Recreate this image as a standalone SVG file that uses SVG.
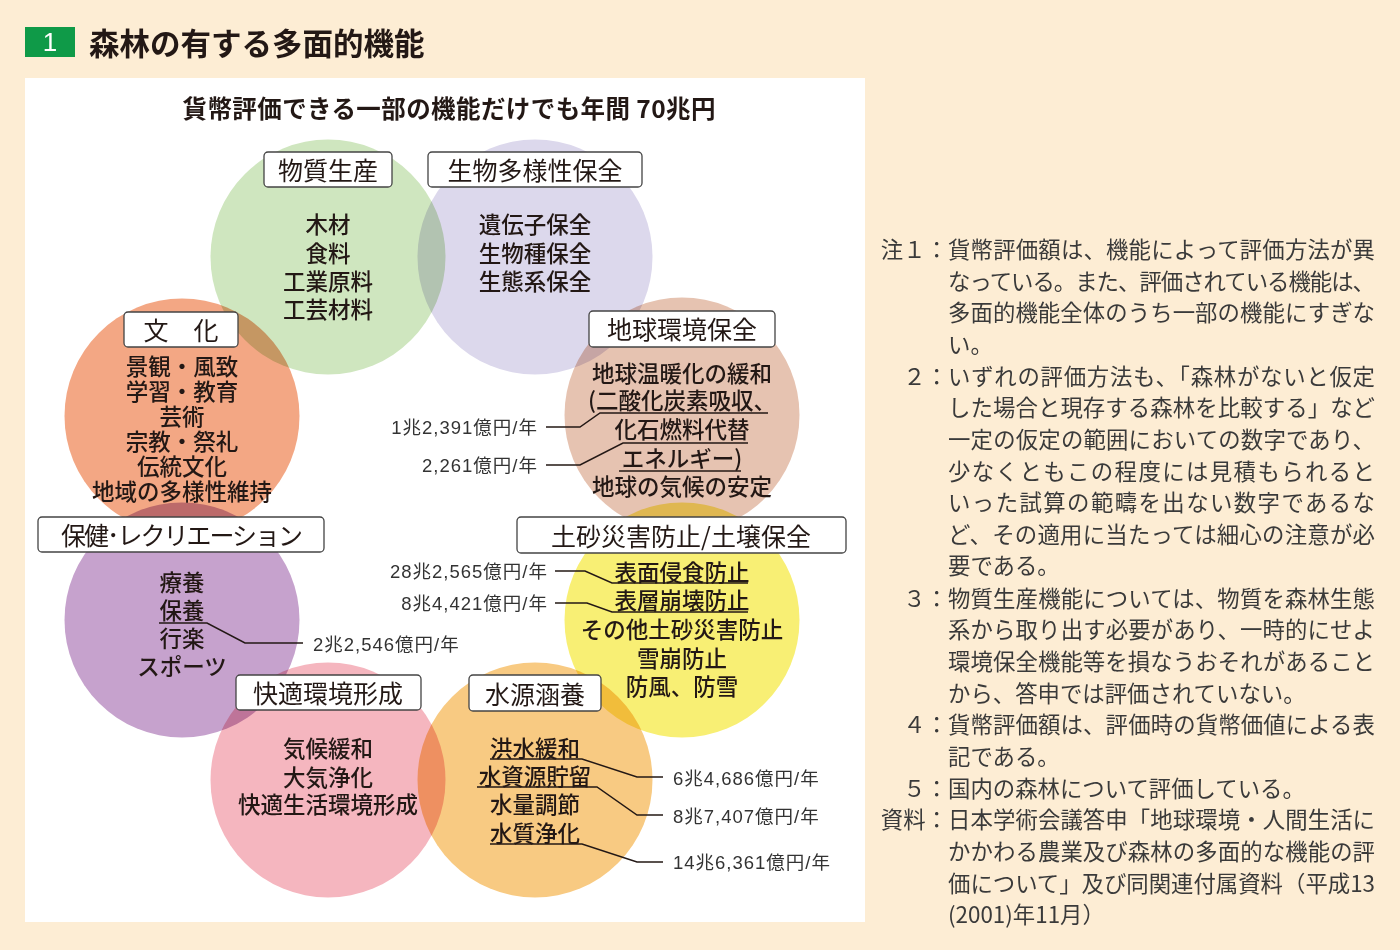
<svg xmlns="http://www.w3.org/2000/svg" width="1400" height="950" viewBox="0 0 1400 950">
<style>
text{font-family:"Noto Sans CJK JP","Liberation Sans",sans-serif;fill:#231815}
.c{mix-blend-mode:multiply}
.box{fill:#fff;stroke:#444;stroke-width:1.3}
.lbl{font-size:25px;text-anchor:middle;dominant-baseline:central}
.in{font-size:22.5px;font-weight:500;text-anchor:middle;dominant-baseline:central}
.num{font-family:"Liberation Sans","Noto Sans CJK JP",sans-serif;font-size:18.5px;letter-spacing:1px;dominant-baseline:central;fill:#333}
.ln{fill:none;stroke:#231815;stroke-width:1.5}
.note{font-size:22.4px;fill:#3a3a3a;dominant-baseline:central}
.nh{text-anchor:end}
</style>
<rect width="1400" height="950" fill="#FDEDD4"/>
<rect x="25" y="27" width="50" height="30" fill="#0F9A48"/>
<text x="50" y="42" font-size="26" text-anchor="middle" dominant-baseline="central" style="fill:#fff;font-family:'Liberation Sans',sans-serif">1</text>
<text x="89" y="42" font-size="30.5" font-weight="700" dominant-baseline="central">森林の有する多面的機能</text>
<rect x="25" y="78" width="840" height="844" fill="#fff"/>
<text x="449" y="107" font-size="24.5" font-weight="700" text-anchor="middle" dominant-baseline="central" textLength="533">貨幣評価できる一部の機能だけでも年間 70兆円</text>

<g id="circles">
<circle class="c" cx="328" cy="257" r="117.5" fill="#CFE6BF"/>
<circle class="c" cx="535" cy="257" r="117.5" fill="#DCD8EC"/>
<circle class="c" cx="182" cy="416" r="117.5" fill="#F3A784"/>
<circle class="c" cx="682" cy="415" r="117.5" fill="#E6C3B1"/>
<circle class="c" cx="182" cy="620" r="117.5" fill="#C6A2CD"/>
<circle class="c" cx="682" cy="620" r="117.5" fill="#F8EF74"/>
<circle class="c" cx="328" cy="780" r="117.5" fill="#F5B6BF"/>
<circle class="c" cx="535" cy="780" r="117.5" fill="#F8CA82"/>
</g>

<g id="connectors">
<polyline class="ln" points="546,427 580,427 600,413 768,413"/>
<polyline class="ln" points="546,465 580,465 623,443 748,443"/>
<line class="ln" x1="619" y1="471" x2="741" y2="471"/>
<polyline class="ln" points="555,571 585,571 612,583 748,583"/>
<polyline class="ln" points="555,603 587,603 612,612 748,612"/>
<polyline class="ln" points="159,623 207,623 245,643 303,643"/>
<polyline class="ln" points="490,759 582,759 637,777 663,777"/>
<polyline class="ln" points="477,787 597,787 637,815 663,815"/>
<polyline class="ln" points="490,844 582,844 637,862 663,862"/>
</g>

<g id="node-busshitsu">
<rect class="box" x="264" y="152" width="128" height="35" rx="4"/>
<text class="lbl" x="328" y="169">物質生産</text>
<text class="in" x="328" y="223">木材</text>
<text class="in" x="328" y="252">食料</text>
<text class="in" x="328" y="280">工業原料</text>
<text class="in" x="328" y="308">工芸材料</text>
</g>
<g id="node-seibutsu">
<rect class="box" x="428" y="152" width="214" height="35" rx="4"/>
<text class="lbl" x="535" y="169">生物多様性保全</text>
<text class="in" x="535" y="223">遺伝子保全</text>
<text class="in" x="535" y="252">生物種保全</text>
<text class="in" x="535" y="280">生態系保全</text>
</g>
<g id="node-bunka">
<rect class="box" x="124" y="312" width="114" height="35" rx="4"/>
<text class="lbl" x="181" y="329">文　化</text>
<text class="in" x="182" y="365">景観・風致</text>
<text class="in" x="182" y="390">学習・教育</text>
<text class="in" x="182" y="415">芸術</text>
<text class="in" x="182" y="440">宗教・祭礼</text>
<text class="in" x="182" y="465">伝統文化</text>
<text class="in" x="182" y="490">地域の多様性維持</text>
</g>
<g id="node-chikyu">
<rect class="box" x="589" y="311" width="186" height="36" rx="4"/>
<text class="lbl" x="682" y="328">地球環境保全</text>
<text class="in" x="682" y="372">地球温暖化の緩和</text>
<text class="in" x="682" y="399">(二酸化炭素吸収、</text>
<text class="in" x="682" y="428">化石燃料代替</text>
<text class="in" x="682" y="457">エネルギー)</text>
<text class="in" x="682" y="485">地球の気候の安定</text>
<text class="num" x="538" y="427" text-anchor="end">1兆2,391億円/年</text>
<text class="num" x="538" y="465" text-anchor="end">2,261億円/年</text>
</g>
<g id="node-hoken">
<rect class="box" x="38" y="517" width="286" height="35" rx="4"/>
<text class="lbl" x="182" y="534" textLength="242">保健･レクリエーション</text>
<text class="in" x="182" y="581">療養</text>
<text class="in" x="182" y="609">保養</text>
<text class="in" x="182" y="637">行楽</text>
<text class="in" x="182" y="665">スポーツ</text>
<text class="num" x="313" y="644">2兆2,546億円/年</text>
</g>
<g id="node-dosha">
<rect class="box" x="517" y="517" width="329" height="36" rx="4"/>
<text class="lbl" x="681" y="535">土砂災害防止/土壌保全</text>
<text class="in" x="682" y="571">表面侵食防止</text>
<text class="in" x="682" y="599">表層崩壊防止</text>
<text class="in" x="682" y="628">その他土砂災害防止</text>
<text class="in" x="682" y="657">雪崩防止</text>
<text class="in" x="682" y="685">防風、防雪</text>
<text class="num" x="548" y="571" text-anchor="end">28兆2,565億円/年</text>
<text class="num" x="548" y="603" text-anchor="end">8兆4,421億円/年</text>
</g>
<g id="node-kaiteki">
<rect class="box" x="236" y="675" width="185" height="35" rx="4"/>
<text class="lbl" x="328" y="692">快適環境形成</text>
<text class="in" x="328" y="747">気候緩和</text>
<text class="in" x="328" y="776">大気浄化</text>
<text class="in" x="328" y="803">快適生活環境形成</text>
</g>
<g id="node-suigen">
<rect class="box" x="469" y="675" width="132" height="36" rx="4"/>
<text class="lbl" x="535" y="693">水源涵養</text>
<text class="in" x="535" y="747">洪水緩和</text>
<text class="in" x="535" y="775">水資源貯留</text>
<text class="in" x="535" y="803">水量調節</text>
<text class="in" x="535" y="832">水質浄化</text>
<text class="num" x="673" y="778">6兆4,686億円/年</text>
<text class="num" x="673" y="816">8兆7,407億円/年</text>
<text class="num" x="673" y="862">14兆6,361億円/年</text>
</g>

<g id="notes">
<text class="note nh" x="948" y="248">注１：</text>
<text class="note" x="948" y="248" textLength="427">貨幣評価額は、機能によって評価方法が異</text>
<text class="note" x="948" y="280" textLength="427">なっている。また、評価されている機能は、</text>
<text class="note" x="948" y="311" textLength="427">多面的機能全体のうち一部の機能にすぎな</text>
<text class="note" x="948" y="343">い。</text>
<text class="note nh" x="948" y="375">２：</text>
<text class="note" x="948" y="375" textLength="427">いずれの評価方法も、「森林がないと仮定</text>
<text class="note" x="948" y="406" textLength="427">した場合と現存する森林を比較する」など</text>
<text class="note" x="948" y="438" textLength="427">一定の仮定の範囲においての数字であり、</text>
<text class="note" x="948" y="470" textLength="427">少なくともこの程度には見積もられると</text>
<text class="note" x="948" y="501" textLength="427">いった試算の範疇を出ない数字であるな</text>
<text class="note" x="948" y="533" textLength="427">ど、その適用に当たっては細心の注意が必</text>
<text class="note" x="948" y="564">要である。</text>
<text class="note nh" x="948" y="597">３：</text>
<text class="note" x="948" y="597" textLength="427">物質生産機能については、物質を森林生態</text>
<text class="note" x="948" y="628" textLength="427">系から取り出す必要があり、一時的にせよ</text>
<text class="note" x="948" y="660" textLength="427">環境保全機能等を損なうおそれがあること</text>
<text class="note" x="948" y="692">から、答申では評価されていない。</text>
<text class="note nh" x="948" y="723">４：</text>
<text class="note" x="948" y="723" textLength="427">貨幣評価額は、評価時の貨幣価値による表</text>
<text class="note" x="948" y="755">記である。</text>
<text class="note nh" x="948" y="787">５：</text>
<text class="note" x="948" y="787">国内の森林について評価している。</text>
<text class="note nh" x="948" y="818">資料：</text>
<text class="note" x="948" y="818" textLength="427">日本学術会議答申「地球環境・人間生活に</text>
<text class="note" x="948" y="850" textLength="427">かかわる農業及び森林の多面的な機能の評</text>
<text class="note" x="948" y="882" textLength="427">価について」及び同関連付属資料（平成13</text>
<text class="note" x="948" y="913">(2001)年11月）</text>
</g>
</svg>
